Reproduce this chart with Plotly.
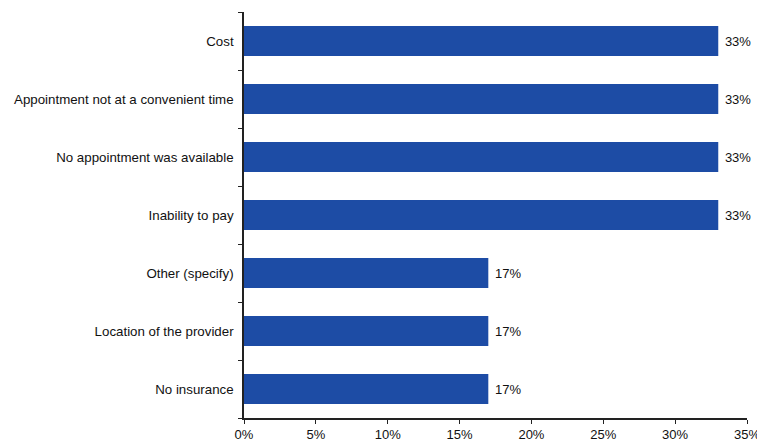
import plotly.graph_objects as go

categories = ["Cost", "Appointment not at a convenient time", "No appointment was available",
              "Inability to pay", "Other (specify)", "Location of the provider", "No insurance"]
values = [33, 33, 33, 33, 17, 17, 17]
labels = ["33%", "33%", "33%", "33%", "17%", "17%", "17%"]
tick_vals = [0, 5, 10, 15, 20, 25, 30, 35]
tick_text = ["0%", "5%", "10%", "15%", "20%", "25%", "30%", "35%"]

fig = go.Figure(go.Bar(
    x=values, y=categories, orientation="h",
    marker=dict(color="#1d4ca5", line=dict(width=0)),
    text=[" " + t for t in labels], textposition="outside", cliponaxis=False,
    textfont=dict(family="Liberation Sans, Arial", size=13, color="#111"),
))

# page body has an 8px margin, so the figure is sized/offset to compensate
fig.update_layout(
    width=757, height=434,
    margin=dict(l=236, r=18, t=4, b=24),
    paper_bgcolor="white", plot_bgcolor="white",
    bargap=0.48, showlegend=False,
    font=dict(family="Liberation Sans, Arial", size=13.3, color="#111"),
    xaxis=dict(range=[0, 35], tickvals=tick_vals, ticktext=tick_text, automargin=False,
               showgrid=False, zeroline=False, showline=True, linecolor="#222",
               linewidth=1.5, ticks="outside", ticklen=4, tickcolor="#222",
               tickfont=dict(size=13), ticklabelstandoff=0),
    yaxis=dict(categoryorder="array", categoryarray=categories[::-1], automargin=False,
               showgrid=False, showline=True, linecolor="#222", linewidth=1.5,
               ticks="outside", ticklen=4, tickcolor="#222", tickson="boundaries",
               ticklabelstandoff=6),
)

fig.write_html("out.html")
